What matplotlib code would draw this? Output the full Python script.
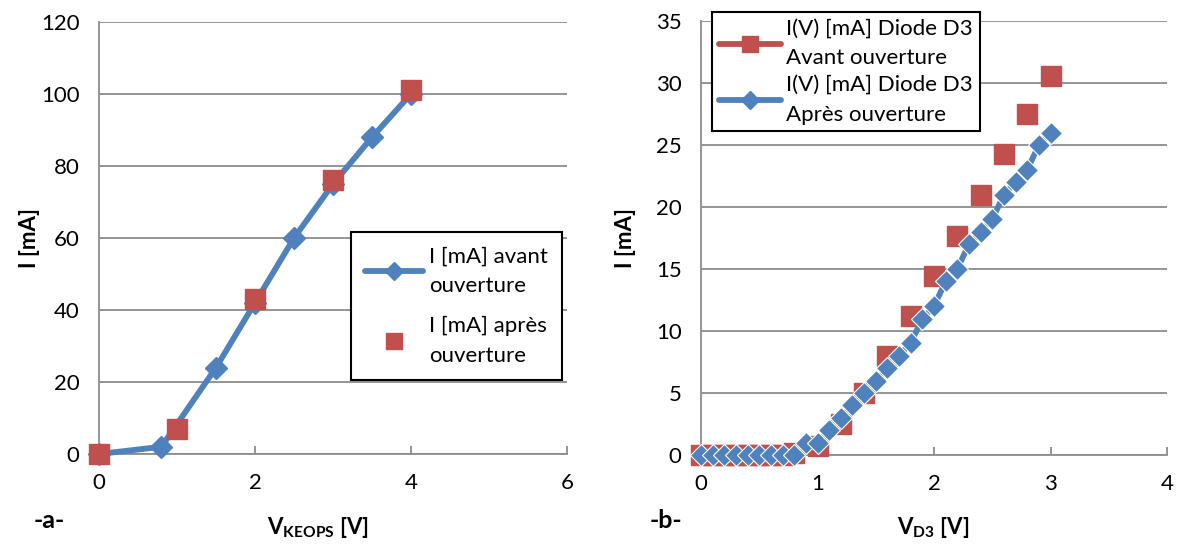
import matplotlib
matplotlib.use("Agg")
import matplotlib.pyplot as plt
from matplotlib.lines import Line2D

plt.rcParams['font.family'] = ['Lato', 'DejaVu Sans']
plt.rcParams['mathtext.fontset'] = 'custom'
plt.rcParams['mathtext.rm'] = 'Lato'
plt.rcParams['mathtext.bf'] = 'Lato:bold'

# ---- data: chart a ----
va_avant = [0, 0.8, 1.5, 2, 2.5, 3, 3.5, 4]
ia_avant = [0, 2, 24, 42, 60, 75, 88, 100]
va_apres = [0, 1, 2, 3, 4]
ia_apres = [0, 7, 43, 76, 101]

# ---- data: chart b ----
vb_avant = [0, 0.1, 0.2, 0.3, 0.4, 0.5, 0.6, 0.7, 0.8, 1.0, 1.2, 1.4, 1.6,
            1.8, 2.0, 2.2, 2.4, 2.6, 2.8, 3.0]
ib_avant = [0, 0, 0, 0, 0, 0, 0, 0, 0.2, 0.7, 2.5, 5.0, 8.0,
            11.2, 14.4, 17.7, 21.0, 24.3, 27.5, 30.6]
vb_apres = [0, 0.1, 0.2, 0.3, 0.4, 0.5, 0.6, 0.7, 0.8, 0.9, 1.0, 1.1, 1.2,
            1.3, 1.4, 1.5, 1.6, 1.7, 1.8, 1.9, 2.0, 2.1, 2.2, 2.3, 2.4,
            2.5, 2.6, 2.7, 2.8, 2.9, 3.0]
ib_apres = [0, 0, 0, 0, 0, 0, 0, 0, 0, 1, 1, 2, 3,
            4, 5, 6, 7, 8, 9, 11, 12, 14, 15, 17, 18,
            19, 21, 22, 23, 25, 26]

xticks_a = [0, 2, 4, 6]
yticks_a = [0, 20, 40, 60, 80, 100, 120]
xticks_b = [0, 1, 2, 3, 4]
yticks_b = [0, 5, 10, 15, 20, 25, 30, 35]

BLUE = '#4F81BD'
RED = '#C0504D'
GRID = '#8C8C8C'
FS = 16

W, H = 1181, 547
fig = plt.figure(figsize=(W / 100, H / 100), dpi=100)

def px_axes(x0, x1, ytop, ybot):
    return fig.add_axes([x0 / W, (H - ybot) / H, (x1 - x0) / W, (ybot - ytop) / H])

def style(ax, xt, yt):
    ax.set_xticks(xt)
    ax.set_yticks(yt)
    ax.set_xlim(xt[0], xt[-1])
    ax.set_ylim(yt[0], yt[-1])
    for s in ['top', 'right']:
        ax.spines[s].set_visible(False)
    for s in ['left', 'bottom']:
        ax.spines[s].set_color(GRID)
        ax.spines[s].set_linewidth(1.3)
    ax.grid(axis='y', color=GRID, linewidth=1.3)
    ax.set_axisbelow(True)
    ax.tick_params(axis='x', direction='in', length=6, width=1.3, color=GRID,
                   labelsize=FS, pad=14)
    ax.tick_params(axis='y', length=0, labelsize=FS, pad=14)

def legend(ax, handles, labels, x, y, hl, ls, bp):
    lg = ax.legend(handles, labels, loc='upper left',
                   bbox_to_anchor=(x / W, (H - y) / H),
                   bbox_transform=fig.transFigure, fontsize=FS, frameon=True,
                   fancybox=False, edgecolor='black', framealpha=1,
                   handlelength=hl, labelspacing=ls, borderpad=bp,
                   borderaxespad=0, handletextpad=0.25)
    lg.get_frame().set_linewidth(1.5)
    for t in lg.get_texts():
        t.set_linespacing(1.6)
    return lg

# ---- chart a ----
axa = px_axes(99, 567, 22, 454)
style(axa, xticks_a, yticks_a)
axa.plot(va_avant, ia_avant, color=BLUE, lw=4.2, marker='D', ms=11,
         mfc=BLUE, mec=BLUE, clip_on=False, zorder=3,
         solid_capstyle='round')
axa.plot(va_apres, ia_apres, ls='none', marker='s', ms=15, mfc=RED,
         mec=RED, clip_on=False, zorder=4)
handles_a = [
    Line2D([], [], color=BLUE, lw=4.2, marker='D', ms=9.5, mfc=BLUE, mec=BLUE,
           solid_capstyle='round'),
    Line2D([], [], ls='none', marker='s', ms=11, mfc=RED, mec=RED),
]
labels_a = ['I [mA] avant\nouverture', 'I [mA] après\nouverture']
legend(axa, handles_a, labels_a, 351, 232, 2.6, 0.9, 0.65)

# ---- chart b ----
axb = px_axes(701, 1167, 21, 455)
style(axb, xticks_b, yticks_b)
axb.plot(vb_avant, ib_avant, ls='none', marker='s', ms=14.5, mfc=RED,
         mec=RED, clip_on=False, zorder=3)
axb.plot(vb_apres, ib_apres, color=BLUE, lw=4.2, marker='D', ms=11.5,
         mfc=BLUE, mec='white', mew=0.8, clip_on=False, zorder=4)
handles_b = [
    Line2D([], [], color=RED, lw=4.2, marker='s', ms=11, mfc=RED, mec=RED,
           solid_capstyle='round'),
    Line2D([], [], color=BLUE, lw=4.2, marker='D', ms=9, mfc=BLUE, mec=BLUE,
           solid_capstyle='round'),
]
labels_b = ['I(V) [mA] Diode D3\nAvant ouverture',
            'I(V) [mA] Diode D3\nAprès ouverture']
legend(axb, handles_b, labels_b, 712, 12, 2.8, 0.3, 0.3)

# ---- axis labels ----
fig.text(30 / W, (H - 238) / H, 'I [mA]', rotation=90, fontsize=FS,
         fontweight='bold', ha='center', va='center')
fig.text(318 / W, (H - 528) / H, r'V$_{\mathbf{KEOPS}}$ [V]', fontsize=FS,
         fontweight='bold', ha='center', va='center')
fig.text(49 / W, (H - 520) / H, '-a-', fontsize=18, fontweight='bold',
         ha='center', va='center')

fig.text(626 / W, (H - 238) / H, 'I [mA]', rotation=90, fontsize=FS,
         fontweight='bold', ha='center', va='center')
fig.text(933 / W, (H - 528) / H, r'V$_{\mathbf{D3}}$ [V]', fontsize=FS,
         fontweight='bold', ha='center', va='center')
fig.text(666 / W, (H - 520) / H, '-b-', fontsize=18, fontweight='bold',
         ha='center', va='center')

fig.savefig('out.png', dpi=100)
